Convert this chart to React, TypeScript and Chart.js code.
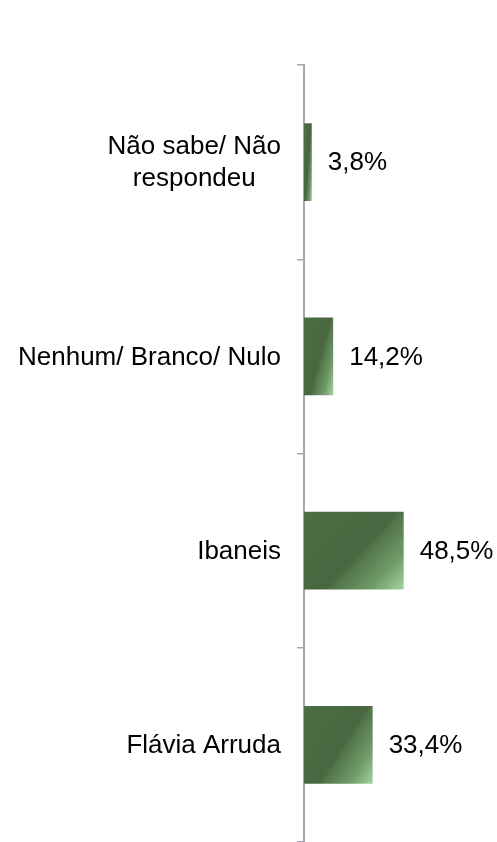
import React, { useEffect, useRef } from "react";
import { Chart, registerables } from "chart.js";

Chart.register(...registerables);

const categories: string[][] = [
  ["Não sabe/ Não", "respondeu"],
  ["Nenhum/ Branco/ Nulo"],
  ["Ibaneis"],
  ["Flávia Arruda"],
];
const values: number[] = [3.8, 14.2, 48.5, 33.4];
const xMin = 0;
const xMax = 90;

const FONT = "'Liberation Sans', Arial, sans-serif";
const AXIS_COLOR = "#a3a8b2";

const labelsPlugin = {
  id: "customLabels",
  afterDatasetsDraw(chart: any) {
    const ctx = chart.ctx;
    const ys = chart.scales.y;
    const meta = chart.getDatasetMeta(0);
    ctx.save();
    ctx.fillStyle = "#000";
    ctx.font = `26px ${FONT}`;
    ctx.textBaseline = "middle";
    const rightEdge = chart.chartArea.left - 23;
    const lineH = 32;
    categories.forEach((lines, i) => {
      const cy = ys.getPixelForValue(i);
      const maxW = Math.max(...lines.map((l) => ctx.measureText(l).width));
      const cx = rightEdge - maxW / 2;
      ctx.textAlign = "center";
      lines.forEach((l, k) => {
        const y = cy + (k - (lines.length - 1) / 2) * lineH + 1;
        ctx.fillText(l, cx, y);
      });
    });
    ctx.textAlign = "left";
    meta.data.forEach((el: any, i: number) => {
      const txt = values[i].toFixed(1).replace(".", ",") + "%";
      ctx.fillText(txt, el.x + 16, el.y + 1);
    });
    ctx.restore();
  },
};

function barGradient(context: any) {
  const chart = context.chart;
  if (context.type !== "data") return "#4a6b43";
  const xs = chart.scales.x;
  const ys = chart.scales.y;
  if (!xs || !ys || !chart.chartArea) return "#4a6b43";
  const i = context.dataIndex;
  const left = xs.getPixelForValue(0);
  const right = xs.getPixelForValue(values[i]);
  const cy = ys.getPixelForValue(i);
  const cat = (ys.bottom - ys.top) / categories.length;
  const h = cat * 0.4;
  const w = Math.max(1, right - left);
  const top = cy - h / 2;
  // gradient defined in the bar's normalised space: t = a*u + b*v
  const a = 0.58;
  const b = 0.42;
  const gx = a / w;
  const gy = b / h;
  const n = gx * gx + gy * gy;
  const g = chart.ctx.createLinearGradient(left, top, left + gx / n, top + gy / n);
  g.addColorStop(0, "#4d6e45");
  g.addColorStop(0.5, "#486740");
  g.addColorStop(0.55, "#4a6942");
  g.addColorStop(0.58, "#52744a");
  g.addColorStop(0.8, "#709b68");
  g.addColorStop(1, "#a2d59e");
  return g;
}

export default function App() {
  const ref = useRef<HTMLCanvasElement | null>(null);
  useEffect(() => {
    if (!ref.current) return;
    Chart.defaults.font.family = FONT;
    const chart = new Chart(ref.current, {
      type: "bar",
      data: {
        labels: categories.map((c) => c.join(" ")),
        datasets: [
          {
            data: values,
            backgroundColor: barGradient as any,
            borderWidth: 0,
            barPercentage: 0.4,
            categoryPercentage: 1,
          },
        ],
      },
      options: {
        indexAxis: "y",
        animation: false,
        responsive: false,
        layout: { padding: { left: 297, top: 65, right: 8, bottom: 0 } },
        plugins: {
          legend: { display: false },
          tooltip: { enabled: false },
        },
        scales: {
          x: { display: false, min: xMin, max: xMax },
          y: {
            type: "category",
            offset: true,
            grid: {
              display: true,
              offset: true,
              drawOnChartArea: false,
              drawTicks: true,
              tickLength: 7,
              color: AXIS_COLOR,
              lineWidth: 1.5,
            },
            border: { display: true, color: AXIS_COLOR, width: 2 },
            ticks: { display: false },
          },
        },
      },
      plugins: [labelsPlugin],
    });
    return () => chart.destroy();
  }, []);
  return (
    <div style={{ position: "fixed", left: 0, top: 0, width: 497, height: 842, background: "#fff" }}>
      <canvas ref={ref} width={497} height={842} style={{ display: "block", width: 497, height: 842 }} />
    </div>
  );
}
